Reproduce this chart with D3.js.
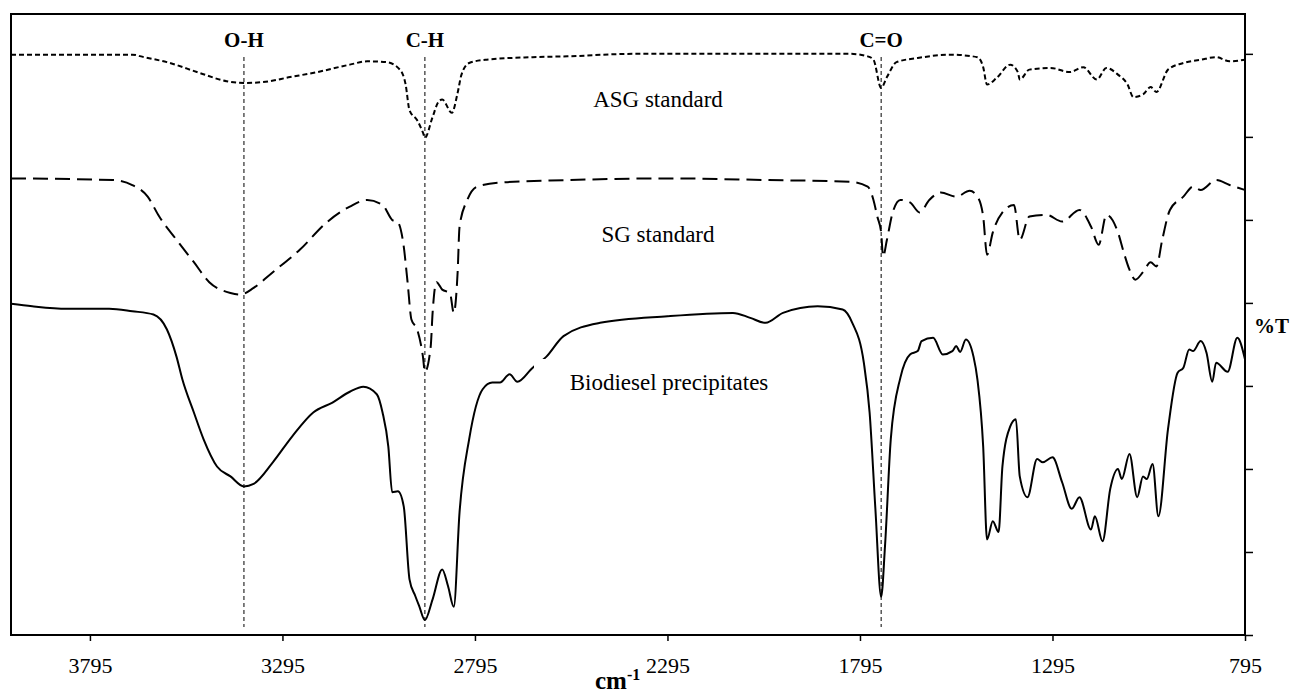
<!DOCTYPE html>
<html>
<head>
<meta charset="utf-8">
<script src="https://cdn.jsdelivr.net/npm/d3@7"></script>
<style>
  body { margin: 0; background: #fff; }
  svg text { font-family: "Liberation Serif", "Times New Roman", serif; fill: #000; }
</style>
</head>
<body>
<script>
// wavenumber (cm-1) and %T pairs
const asgWn = [4000, 3685, 3655, 3595, 3510, 3440, 3395, 3345, 3275, 3205, 3120, 3075, 3025, 2990, 2975, 2965, 2945, 2930, 2925, 2905, 2890, 2880, 2855, 2840, 2830, 2810, 2765, 2645, 2555, 2385, 2125, 1865, 1820, 1775, 1760, 1740, 1725, 1700, 1645, 1560, 1490, 1475, 1465, 1440, 1405, 1385, 1380, 1355, 1300, 1250, 1215, 1180, 1155, 1125, 1100, 1085, 1060, 1040, 1025, 995, 955, 910, 870, 835, 795];
const asgT = [69.9, 69.9, 69.6, 69.0, 67.7, 66.7, 66.5, 66.6, 67.2, 67.8, 68.7, 69.1, 69.0, 68.1, 66.3, 63.2, 62.0, 60.5, 59.9, 62.4, 64.2, 64.5, 62.9, 65.3, 67.5, 68.9, 69.3, 69.6, 69.7, 70.0, 70.0, 70.0, 70.0, 69.7, 69.3, 65.9, 67.2, 69.0, 69.5, 69.9, 69.6, 68.4, 66.3, 67.1, 68.7, 67.8, 66.9, 68.1, 68.3, 67.8, 68.4, 66.9, 68.3, 67.5, 66.3, 64.8, 65.1, 66.0, 65.4, 68.1, 68.9, 69.3, 69.6, 69.1, 69.3];

const sgWn = [4000, 3735, 3685, 3645, 3615, 3570, 3525, 3485, 3430, 3405, 3370, 3320, 3250, 3180, 3120, 3075, 3035, 3010, 2995, 2980, 2970, 2960, 2945, 2930, 2925, 2910, 2905, 2895, 2880, 2860, 2850, 2840, 2835, 2815, 2790, 2730, 2555, 2295, 2035, 1820, 1775, 1760, 1750, 1740, 1735, 1725, 1710, 1690, 1665, 1640, 1615, 1585, 1545, 1510, 1490, 1475, 1465, 1450, 1425, 1395, 1380, 1355, 1310, 1270, 1225, 1195, 1175, 1155, 1125, 1110, 1095, 1080, 1060, 1040, 1025, 1010, 990, 955, 930, 910, 870, 835, 795];
const sgT = [55.0, 54.8, 54.2, 52.8, 50.4, 47.6, 44.9, 42.5, 41.2, 41.0, 41.8, 43.7, 46.4, 49.7, 51.6, 52.4, 51.8, 50.0, 49.7, 46.8, 42.5, 38.0, 36.8, 33.5, 31.7, 34.7, 38.8, 42.5, 41.6, 41.2, 38.8, 43.7, 49.2, 52.4, 54.0, 54.5, 54.8, 55.0, 54.8, 54.6, 54.0, 52.4, 50.4, 48.5, 45.6, 47.6, 50.9, 52.4, 52.1, 50.9, 52.4, 53.3, 52.8, 53.5, 52.8, 50.4, 45.8, 48.5, 50.9, 51.8, 47.6, 50.4, 50.6, 49.8, 51.2, 49.2, 47.0, 50.6, 48.5, 46.1, 44.0, 42.8, 43.7, 44.9, 44.4, 47.6, 51.2, 52.8, 54.0, 53.6, 54.8, 54.2, 53.6];

const bioWn = [4000, 3945, 3855, 3745, 3685, 3630, 3595, 3570, 3555, 3525, 3500, 3465, 3430, 3395, 3370, 3320, 3270, 3215, 3165, 3120, 3085, 3050, 3035, 3020, 3010, 2995, 2980, 2965, 2950, 2940, 2925, 2905, 2880, 2865, 2850, 2835, 2810, 2775, 2750, 2730, 2705, 2685, 2645, 2610, 2565, 2470, 2295, 2125, 2080, 2040, 1995, 1905, 1840, 1815, 1785, 1770, 1755, 1740, 1730, 1715, 1690, 1665, 1645, 1635, 1605, 1580, 1555, 1545, 1535, 1520, 1500, 1490, 1475, 1465, 1450, 1435, 1425, 1405, 1390, 1380, 1360, 1335, 1320, 1295, 1270, 1245, 1225, 1195, 1185, 1165, 1145, 1125, 1115, 1095, 1075, 1060, 1050, 1035, 1020, 995, 970, 955, 940, 930, 910, 895, 880, 870, 840, 815, 795];
const bioT = [39.9, 39.6, 39.3, 39.3, 39.0, 38.6, 36.8, 33.5, 30.8, 26.8, 23.6, 20.3, 19.1, 17.9, 18.2, 20.8, 23.9, 26.8, 28.0, 29.3, 29.9, 29.0, 26.8, 22.7, 17.2, 17.3, 15.5, 6.7, 4.7, 3.5, 1.8, 4.3, 7.9, 5.9, 3.4, 14.8, 23.6, 29.6, 30.4, 30.4, 31.4, 30.5, 32.2, 33.5, 36.0, 37.6, 38.4, 38.8, 38.2, 37.6, 38.8, 39.6, 39.2, 37.6, 32.8, 26.8, 15.2, 4.6, 10.7, 23.6, 31.0, 33.8, 34.2, 35.4, 35.8, 33.8, 34.2, 34.8, 34.1, 35.6, 33.5, 30.8, 22.7, 11.5, 13.7, 12.4, 20.3, 25.1, 26.0, 19.1, 16.6, 21.2, 20.8, 21.4, 18.4, 15.2, 16.6, 12.7, 14.3, 11.3, 17.6, 20.0, 18.8, 21.8, 16.6, 19.1, 18.8, 20.6, 14.3, 24.8, 31.6, 32.2, 34.4, 34.2, 35.4, 34.0, 30.5, 32.8, 31.7, 35.8, 33.2];

const xTicks = [3795, 3295, 2795, 2295, 1795, 1295, 795];
const yTicks = [0, 10, 20, 30, 40, 50, 60, 70];
const bands = [
  { name: "O-H", wn: 3395 },
  { name: "C-H", wn: 2925 },
  { name: "C=O", wn: 1740 }
];
const seriesLabels = ["ASG standard", "SG standard", "Biodiesel precipitates"];

const width = 1293, height = 696;
const plotLeft = 11, plotRight = 1245, plotTop = 14, plotBottom = 635;

const svg = d3.select("body").append("svg")
  .attr("width", width)
  .attr("height", height);

const x = d3.scaleLinear().domain([4000, 795]).range([plotLeft, plotRight]);
const y = d3.scaleLinear().domain([0, 74.8]).range([plotBottom, plotTop]);

const line = d3.line()
  .x(d => x(d[0]))
  .y(d => y(d[1]))
  .curve(d3.curveMonotoneX);

// band guide lines
svg.selectAll(".band")
  .data(bands)
  .enter().append("line")
  .attr("x1", d => x(d.wn)).attr("x2", d => x(d.wn))
  .attr("y1", 57).attr("y2", 627)
  .attr("stroke", "#000")
  .attr("stroke-width", 1)
  .attr("stroke-dasharray", "4,3");

svg.selectAll(".bandLabel")
  .data(bands)
  .enter().append("text")
  .attr("x", d => x(d.wn))
  .attr("y", 47)
  .attr("text-anchor", "middle")
  .style("font-size", "21px")
  .style("font-weight", "bold")
  .text(d => d.name);

const series = [
  { wn: asgWn, t: asgT, dash: "5,3" },
  { wn: sgWn, t: sgT, dash: "15,7" },
  { wn: bioWn, t: bioT, dash: null }
];

series.forEach(s => {
  svg.append("path")
    .datum(s.wn.map((w, i) => [w, s.t[i]]))
    .attr("fill", "none")
    .attr("stroke", "#000")
    .attr("stroke-width", 2)
    .attr("stroke-dasharray", s.dash)
    .attr("d", line);
});

// white box behind the biodiesel label, as in the original
svg.append("rect")
  .attr("x", 534).attr("y", 359)
  .attr("width", 270).attr("height", 40)
  .attr("fill", "#fff");

svg.append("text").attr("x", 658).attr("y", 107)
  .attr("text-anchor", "middle").style("font-size", "23px").text(seriesLabels[0]);
svg.append("text").attr("x", 658).attr("y", 242)
  .attr("text-anchor", "middle").style("font-size", "23px").text(seriesLabels[1]);
svg.append("text").attr("x", 669).attr("y", 390)
  .attr("text-anchor", "middle").style("font-size", "23px").text(seriesLabels[2]);

// frame
svg.append("rect")
  .attr("x", plotLeft).attr("y", plotTop)
  .attr("width", plotRight - plotLeft).attr("height", plotBottom - plotTop)
  .attr("fill", "none")
  .attr("stroke", "#000")
  .attr("stroke-width", 2);

// bottom axis
const xAxis = svg.append("g")
  .attr("transform", `translate(0,${plotBottom})`)
  .call(d3.axisBottom(x).tickValues(xTicks).tickSize(6).tickFormat(d3.format("d")));
xAxis.select(".domain").remove();
xAxis.selectAll("line").attr("stroke-width", 1.5);
xAxis.selectAll("text")
  .attr("y", 38).attr("dy", 0)
  .style("font-size", "22px")
  .style("font-family", "'Liberation Serif', serif");

// right axis, ticks only
const yAxis = svg.append("g")
  .attr("transform", `translate(${plotRight},0)`)
  .call(d3.axisRight(y).tickValues(yTicks).tickSize(8).tickFormat(""));
yAxis.select(".domain").remove();
yAxis.selectAll("line").attr("stroke-width", 1.5);

svg.append("text")
  .attr("x", 1254).attr("y", 333)
  .style("font-size", "21px")
  .style("font-weight", "bold")
  .text("%T");

const xt = svg.append("text")
  .attr("x", 595).attr("y", 689)
  .style("font-size", "25px")
  .style("font-weight", "bold");
xt.append("tspan").text("cm");
xt.append("tspan").attr("dy", -9).style("font-size", "16px").text("-1");
</script>
</body>
</html>
